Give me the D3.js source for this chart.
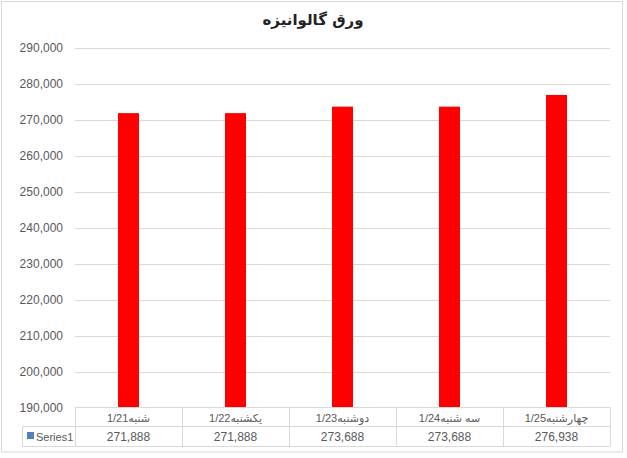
<!DOCTYPE html>
<html><head><meta charset="utf-8">
<script src="https://cdn.jsdelivr.net/npm/d3@7"></script>
<style>body{margin:0;background:#fff}svg{display:block}text{font-family:"Liberation Sans","DejaVu Sans",Arial,sans-serif}</style>
</head><body>
<script>
const title = "ورق گالوانیزه";
const categories = ["شنبه1/21","یکشنبه1/22","دوشنبه1/23","سه شنبه1/24","چهارشنبه1/25"];
const seriesName = "Series1";
const values = [271888, 271888, 273688, 273688, 276938];
const yTicks = [190000,200000,210000,220000,230000,240000,250000,260000,270000,280000,290000];

const W = 627, H = 458;
const svg = d3.select("body").append("svg").attr("width", W).attr("height", H);
svg.append("rect").attr("x",1.5).attr("y",1.5).attr("width",621).attr("height",450.5)
  .attr("fill","#fff").attr("stroke","#d9d9d9");

const pLeft = 75, pRight = 610, pTop = 48, pBottom = 407.5;
const x = d3.scaleBand().domain(categories).range([pLeft, pRight]);
const y = d3.scaleLinear().domain([190000, 290000]).range([pBottom, pTop]);

svg.append("text").attr("x", 313).attr("y", 25).attr("text-anchor","middle")
  .attr("font-size", 15).attr("font-weight","bold").attr("fill","#222")
  .style("font-family","'DejaVu Sans',sans-serif").text(title);

// gridlines
svg.append("g").selectAll("line").data(yTicks.slice(1)).join("line")
  .attr("x1", pLeft).attr("x2", pRight)
  .attr("y1", d => Math.round(y(d))+0.5).attr("y2", d => Math.round(y(d))+0.5)
  .attr("stroke","#d9d9d9");

const fmt = d3.format(",");
svg.append("g").selectAll("text").data(yTicks).join("text")
  .attr("x", 63).attr("y", d => y(d)+4).attr("text-anchor","end")
  .attr("font-size", 12).attr("fill","#595959").text(d => fmt(d));

// bars
const bw = 21;
svg.append("g").selectAll("rect").data(values).join("rect")
  .attr("x", (d,i) => x(categories[i]) + x.bandwidth()/2 - bw/2)
  .attr("width", bw)
  .attr("y", d => y(d)).attr("height", d => pBottom - y(d))
  .attr("fill","#ff0000");

// data table
const rowTop = 407.5, rowMid = 426.5, rowBot = 446.5, tableLeft = 22.5;
const g = svg.append("g").attr("stroke","#d9d9d9").attr("fill","none");
g.append("line").attr("x1",pLeft).attr("x2",pRight).attr("y1",rowTop).attr("y2",rowTop);
g.append("line").attr("x1",tableLeft).attr("x2",pRight).attr("y1",rowMid).attr("y2",rowMid);
g.append("line").attr("x1",tableLeft).attr("x2",pRight).attr("y1",rowBot).attr("y2",rowBot);
g.append("line").attr("x1",tableLeft).attr("x2",tableLeft).attr("y1",rowMid).attr("y2",rowBot);
const borders = categories.map(c => Math.round(x(c))+0.5).concat([pRight+0.5]);
g.selectAll("line.v").data(borders).join("line").attr("class","v")
  .attr("x1", d=>d).attr("x2", d=>d).attr("y1", rowTop).attr("y2", rowBot);

svg.append("g").selectAll("text").data(categories).join("text")
  .attr("x", d => x(d)+x.bandwidth()/2).attr("y", rowTop+14).attr("text-anchor","middle")
  .attr("font-size", 11).attr("fill","#595959").text(d => d);
svg.append("g").selectAll("text").data(values).join("text")
  .attr("x", (d,i) => x(categories[i])+x.bandwidth()/2).attr("y", rowMid+14).attr("text-anchor","middle")
  .attr("font-size", 12).attr("fill","#595959").text(d => fmt(d));

svg.append("rect").attr("x", 27).attr("y", 432).attr("width", 7).attr("height", 7).attr("fill","#4f81bd");
svg.append("text").attr("x", 36).attr("y", rowMid+14).attr("font-size", 11).attr("fill","#595959").text(seriesName);
</script>
</body></html>
